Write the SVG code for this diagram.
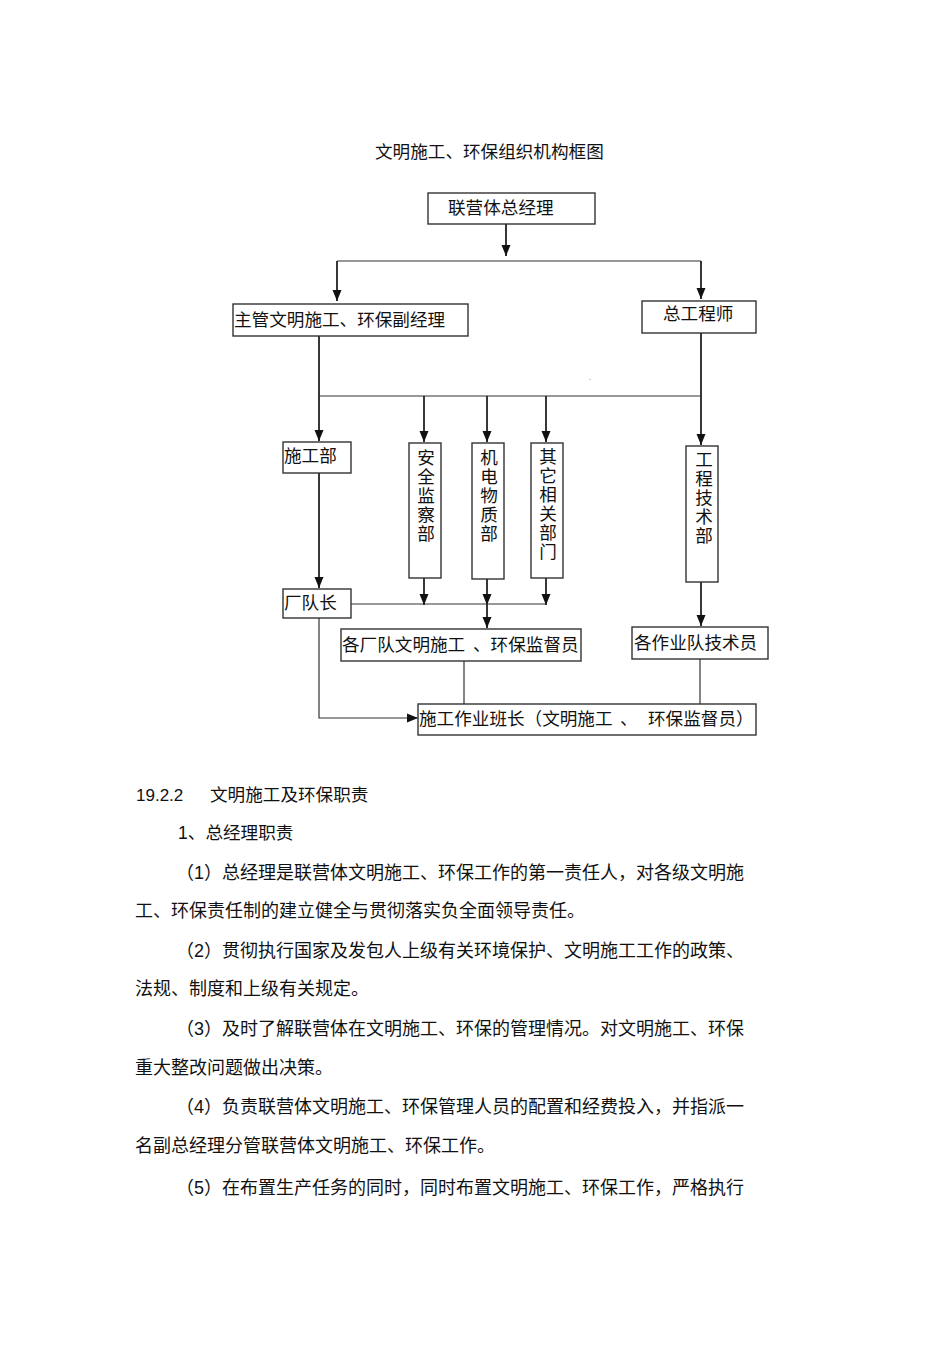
<svg xmlns="http://www.w3.org/2000/svg" width="950" height="1345" viewBox="0 0 950 1345">
<defs>
<marker id="ah" markerUnits="userSpaceOnUse" markerWidth="12" markerHeight="12" viewBox="0 0 12 12" refX="11" refY="6" orient="auto">
<path d="M0,1.5 L11,6 L0,10.5 Z" fill="#111"/>
</marker>
<style>
.t{font-family:"Noto Sans CJK SC","Liberation Sans",sans-serif;font-size:17.6px;fill:#111}
.v{font-family:"Noto Sans CJK SC",sans-serif;font-size:17.6px;fill:#111;writing-mode:vertical-rl;letter-spacing:1.3px}
.p{font-family:"Liberation Sans","Noto Sans CJK SC",sans-serif;font-size:18px;fill:#111}
.box{fill:#fff;stroke:#333;stroke-width:1.4}
.c{fill:none;stroke:#222;stroke-width:1.8}
.c2{fill:none;stroke:#333;stroke-width:1.2}
.a{marker-end:url(#ah)}
</style>
</defs>
<rect width="950" height="1345" fill="#fff"/>
<text class="t" x="375" y="158">文明施工、环保组织机构框图</text>

<g id="connectors">
<line class="c a" x1="506" y1="224" x2="506" y2="256"/>
<line class="c2" x1="337" y1="261" x2="701" y2="261"/>
<line class="c a" x1="337" y1="261" x2="337" y2="301"/>
<line class="c a" x1="701" y1="261" x2="701" y2="299"/>
<line class="c" x1="319" y1="336" x2="319" y2="396"/>
<line class="c2" x1="319" y1="396" x2="701" y2="396"/>
<line class="c a" x1="319" y1="396" x2="319" y2="441"/>
<line class="c a" x1="701" y1="333" x2="701" y2="445"/>
<line class="c a" x1="424" y1="396" x2="424" y2="442"/>
<line class="c a" x1="487" y1="396" x2="487" y2="442"/>
<line class="c a" x1="546" y1="396" x2="546" y2="442"/>
<line class="c a" x1="319" y1="473" x2="319" y2="588"/>
<line class="c a" x1="424" y1="578" x2="424" y2="605"/>
<line class="c a" x1="487" y1="579" x2="487" y2="605"/>
<line class="c a" x1="487" y1="604" x2="487" y2="628"/>
<line class="c a" x1="546" y1="578" x2="546" y2="605"/>
<line class="c2" x1="351" y1="604" x2="546" y2="604"/>
<line class="c a" x1="701" y1="582" x2="701" y2="626"/>
<line class="c2" x1="464" y1="661" x2="464" y2="704"/>
<line class="c2" x1="700" y1="659" x2="700" y2="704"/>
<polyline class="c2 a" points="319,618 319,718 418,718"/>
<text x="589" y="380" style="font-family:'Liberation Sans',sans-serif;font-size:7px;fill:#333">.</text>
</g>

<g id="n1">
<rect class="box" x="428" y="193" width="167" height="31"/>
<text class="t" x="448" y="214">联营体总经理</text>
</g>
<g id="n2">
<rect class="box" x="233" y="304" width="235" height="32"/>
<text class="t" x="234" y="326">主管文明施工、环保副经理</text>
</g>
<g id="n3">
<rect class="box" x="642" y="301" width="114" height="32"/>
<text class="t" x="663" y="320">总工程师</text>
</g>
<g id="n4">
<rect class="box" x="283" y="442" width="68" height="31"/>
<text class="t" x="284" y="462">施工部</text>
</g>
<g id="n5">
<rect class="box" x="409" y="443" width="32" height="135"/>
<text class="v" x="426" y="449">安全监察部</text>
</g>
<g id="n6">
<rect class="box" x="472" y="443" width="32" height="136"/>
<text class="v" x="489" y="449">机电物质部</text>
</g>
<g id="n7">
<rect class="box" x="531" y="443" width="32" height="135"/>
<text class="v" x="548" y="448">其它相关部门</text>
</g>
<g id="n8">
<rect class="box" x="686" y="446" width="32" height="136"/>
<text class="v" x="704" y="451">工程技术部</text>
</g>
<g id="n9">
<rect class="box" x="283" y="589" width="68" height="29"/>
<text class="t" x="284" y="609">厂队长</text>
</g>
<g id="n10">
<rect class="box" x="341" y="629" width="240" height="32"/>
<text class="t" y="651"><tspan x="342">各厂队文明施工</tspan><tspan x="473">、环保监督员</tspan></text>
</g>
<g id="n11">
<rect class="box" x="632" y="627" width="136" height="32"/>
<text class="t" x="634" y="649">各作业队技术员</text>
</g>
<g id="n12">
<rect class="box" x="418" y="704" width="338" height="31"/>
<text class="t" y="725"><tspan x="419">施工作业班长（文明施工</tspan><tspan x="620">、</tspan><tspan x="648">环保监督员）</tspan></text>
</g>

<g id="body">
<text class="p" x="136" y="801" style="font-size:17px">19.2.2</text>
<text class="p" x="210" y="801" style="font-size:17.6px">文明施工及环保职责</text>
<text class="p" x="178" y="839" style="font-size:17.6px">1、总经理职责</text>
<text class="p" x="176" y="879">（1）总经理是联营体文明施工、环保工作的第一责任人，对各级文明施</text>
<text class="p" x="135" y="917">工、环保责任制的建立健全与贯彻落实负全面领导责任。</text>
<text class="p" x="176" y="957">（2）贯彻执行国家及发包人上级有关环境保护、文明施工工作的政策、</text>
<text class="p" x="135" y="995">法规、制度和上级有关规定。</text>
<text class="p" x="176" y="1035">（3）及时了解联营体在文明施工、环保的管理情况。对文明施工、环保</text>
<text class="p" x="135" y="1074">重大整改问题做出决策。</text>
<text class="p" x="176" y="1113">（4）负责联营体文明施工、环保管理人员的配置和经费投入，并指派一</text>
<text class="p" x="135" y="1152">名副总经理分管联营体文明施工、环保工作。</text>
<text class="p" x="176" y="1194">（5）在布置生产任务的同时，同时布置文明施工、环保工作，严格执行</text>
</g>
</svg>
